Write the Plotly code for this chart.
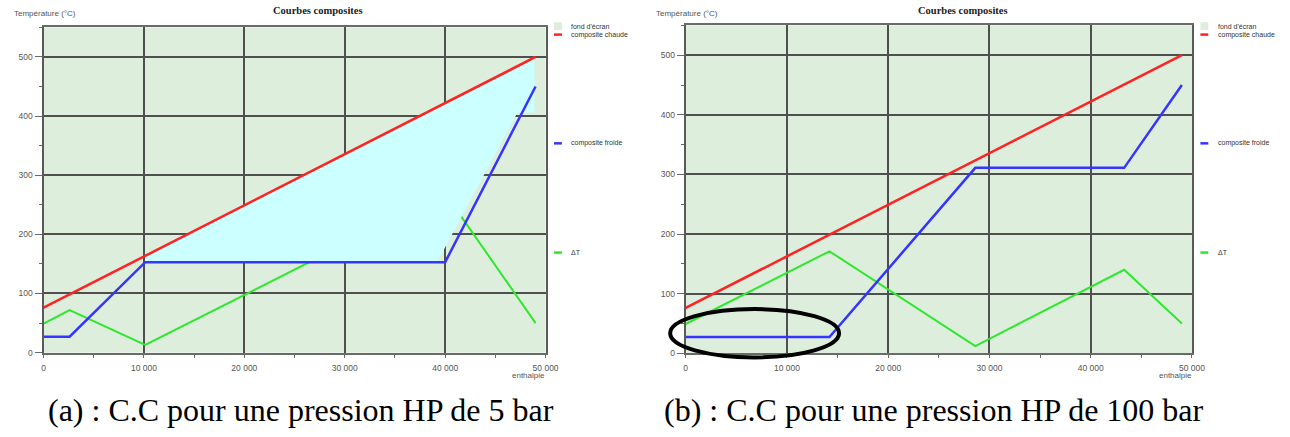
import plotly.graph_objects as go

W, H = 1290, 437

# ---- data -----------------------------------------------------------------
# (a) HP pressure 5 bar
hot_a_x = [0, 49000]
hot_a_y = [76, 500]
cold_a_x = [0, 2600, 10130, 40000, 49000]
cold_a_y = [27, 27, 153, 153, 450]
dt_a_x = [0, 2600, 10130, 40000, 49000]
dt_a_y = [49, 72, 13, 269, 50]
# shaded heat-recovery zone between the composites
zone_a_x = [10130, 10130, 48900, 48900, 47200, 39200]
zone_a_y = [153, 164, 499, 406, 406, 153]

# (b) HP pressure 100 bar
hot_b_x = [0, 49000]
hot_b_y = [76, 500]
cold_b_x = [0, 14200, 28600, 43300, 49000]
cold_b_y = [27, 27, 311, 311, 450]
dt_b_x = [0, 14200, 28600, 43300, 49000]
dt_b_y = [49, 171, 12, 140, 50]

# highlighted region on (b): enthalpy and temperature bounds
ring_b_x = [-1530, 15150]
ring_b_y = [-7, 74]

x_ticks = [0, 10000, 20000, 30000, 40000, 50000]
x_tick_text = ["0", "10 000", "20 000", "30 000", "40 000", "50 000"]
y_ticks = [0, 100, 200, 300, 400, 500]
x_range = [0, 50000]
y_range = [0, 550]

legend_labels = ["fond d'écran", "composite chaude", "composite froide", "ΔT"]
captions = ["(a) : C.C pour une pression HP de 5 bar",
            "(b) : C.C pour une pression HP de 100 bar"]

# ---- style ----------------------------------------------------------------
BG = "#deeedc"
GRID = "#4f4f4f"
RED = "#ff2222"
BLUE = "#3535ff"
GREEN = "#2ee82e"
CYAN = "#ccffff"
TXT = "#555555"

# plot areas in pixels: left, right, top, bottom
areas = [(42, 550, 27.7, 356.7), (691.7, 1204, 25.7, 357.3)]


def px(x):
    return x / W


def py(y):
    return 1 - y / H


fig = go.Figure()

series = [
    (hot_a_x, hot_a_y, cold_a_x, cold_a_y, dt_a_x, dt_a_y, zone_a_x, zone_a_y),
    (hot_b_x, hot_b_y, cold_b_x, cold_b_y, dt_b_x, dt_b_y, None, None),
]

for i, (hx, hy, cx, cy, dx, dy, zx, zy) in enumerate(series):
    xa = "x" if i == 0 else "x2"
    ya = "y" if i == 0 else "y2"
    fig.add_trace(go.Scatter(x=dx, y=dy, mode="lines", xaxis=xa, yaxis=ya,
                             line=dict(color=GREEN, width=2), showlegend=False))
    if zx is not None:
        fig.add_trace(go.Scatter(x=zx, y=zy, mode="lines", fill="toself",
                                 fillcolor=CYAN, line=dict(width=0),
                                 xaxis=xa, yaxis=ya, showlegend=False))
    fig.add_trace(go.Scatter(x=hx, y=hy, mode="lines", xaxis=xa, yaxis=ya,
                             line=dict(color=RED, width=2.5), showlegend=False))
    fig.add_trace(go.Scatter(x=cx, y=cy, mode="lines", xaxis=xa, yaxis=ya,
                             line=dict(color=BLUE, width=2.5), showlegend=False))


def xaxis_cfg(l, r):
    return dict(domain=[px(l), px(r)], range=x_range, tickmode="array",
                tickvals=x_ticks, ticktext=x_tick_text,
                showgrid=True, gridcolor=GRID, gridwidth=1.5, zeroline=False,
                showline=True, linecolor="#6a6a6a", linewidth=2, mirror=True,
                ticks="outside", ticklen=3, tickcolor="#6a6a6a",
                ticklabelstandoff=3,
                minor=dict(dtick=5000, tick0=0, ticks="outside", ticklen=3,
                           tickcolor="#6a6a6a", showgrid=False),
                tickfont=dict(family="Liberation Sans", size=8.5, color=TXT))


def yaxis_cfg(t, b, anchor):
    return dict(domain=[py(b), py(t)], range=y_range, tickmode="array",
                tickvals=y_ticks, anchor=anchor,
                showgrid=True, gridcolor=GRID, gridwidth=1.5, zeroline=False,
                showline=True, linecolor="#5a5a5a", linewidth=2, mirror=True,
                ticks="outside", ticklen=7, tickcolor="#6a6a6a",
                minor=dict(dtick=50, tick0=0, ticks="outside", ticklen=3,
                           tickcolor="#6a6a6a", showgrid=False),
                tickfont=dict(family="Liberation Sans", size=8.5, color=TXT))


(l1, r1, t1, b1), (l2, r2, t2, b2) = areas
fig.update_layout(
    width=W, height=H, margin=dict(l=0, r=0, t=0, b=0),
    paper_bgcolor="white", plot_bgcolor=BG,
    xaxis=dict(**xaxis_cfg(l1, r1), anchor="y"),
    yaxis=yaxis_cfg(t1, b1, "x"),
    xaxis2=dict(**xaxis_cfg(l2, r2), anchor="y2"),
    yaxis2=yaxis_cfg(t2, b2, "x2"),
)

annotations = []
shapes = []

legend_rows = [26.5, 35, 145, 255.5]
legend_cols = [None, RED, BLUE, GREEN]

for i, (l, r, t, b) in enumerate(areas):
    # title and axis names
    annotations.append(dict(x=px((l + r) / 2 + 24), y=py(11), xref="paper", yref="paper",
                            text="<b>Courbes composites</b>", showarrow=False,
                            font=dict(family="Liberation Serif", size=10.5, color="#222"),
                            xanchor="center", yanchor="middle"))
    annotations.append(dict(x=px(l - 32), y=py(14), xref="paper", yref="paper",
                            text="Température (°C)", showarrow=False,
                            font=dict(family="Liberation Sans", size=8, color=TXT),
                            xanchor="left", yanchor="middle"))
    annotations.append(dict(x=px(r - 17), y=py(380), xref="paper", yref="paper",
                            text="enthalpie", showarrow=False,
                            font=dict(family="Liberation Sans", size=8, color=TXT),
                            xanchor="center", yanchor="middle"))
    # legend
    sx0, sx1, tx = r + 8.5, r + 16.5, r + 24
    for label, ly, col in zip(legend_labels, legend_rows, legend_cols):
        if col is None:
            shapes.append(dict(type="rect", xref="paper", yref="paper",
                               x0=px(sx0), x1=px(sx1), y0=py(ly + 4), y1=py(ly - 4),
                               fillcolor=BG, line=dict(width=0)))
        else:
            shapes.append(dict(type="line", xref="paper", yref="paper",
                               x0=px(sx0), x1=px(sx1), y0=py(ly), y1=py(ly),
                               line=dict(color=col, width=2.5)))
        annotations.append(dict(x=px(tx), y=py(ly), xref="paper", yref="paper",
                                text=label, showarrow=False,
                                font=dict(family="Liberation Sans", size=7, color="#333"),
                                xanchor="left", yanchor="middle"))
    # caption
    annotations.append(dict(x=px(302.5 if i == 0 else 943), y=py(415),
                            xref="paper", yref="paper", text=captions[i],
                            showarrow=False,
                            font=dict(family="Liberation Serif", size=32, color="black"),
                            xanchor="center", yanchor="middle"))

# ellipse highlighting the low-temperature plateau of (b)
span_x = x_range[1] - x_range[0]
span_y = y_range[1] - y_range[0]
shapes.append(dict(type="circle", xref="x2 domain", yref="y2 domain",
                   x0=(ring_b_x[0] - x_range[0]) / span_x,
                   x1=(ring_b_x[1] - x_range[0]) / span_x,
                   y0=(ring_b_y[0] - y_range[0]) / span_y,
                   y1=(ring_b_y[1] - y_range[0]) / span_y,
                   line=dict(color="black", width=4), layer="above"))

fig.update_layout(annotations=annotations, shapes=shapes)

fig.write_html("out.html")
